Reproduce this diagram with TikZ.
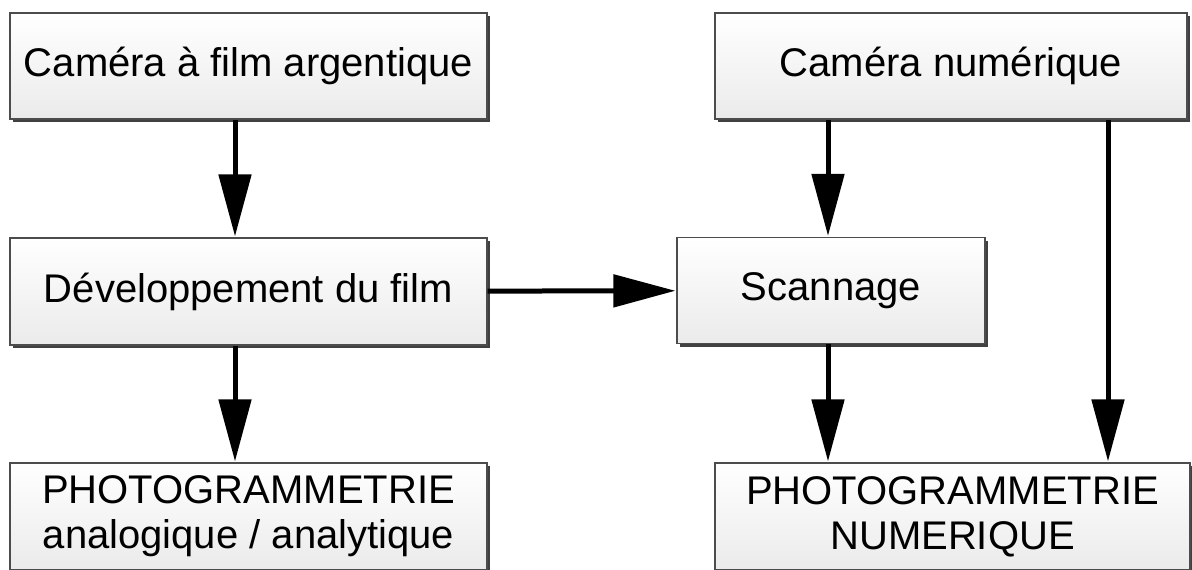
\documentclass[tikz,border=0pt]{standalone}
\usepackage{fontspec}
\setmainfont{Liberation Sans}
\usetikzlibrary{arrows.meta,shadows}

\tikzset{
    etape/.style={draw=black!70, line width=1.2pt, top color=white, bottom color=black!8,
        drop shadow={shadow xshift=3pt, shadow yshift=-3pt, fill=black!75, opacity=1},
        inner sep=0pt, align=center, font=\fontsize{40}{45}\selectfont},
    fleche/.style={line width=5pt, -{Triangle[length=62pt,width=32pt]}, shorten >=1pt}
}

\begin{document}
\begin{tikzpicture}[x=1pt, y=-1pt]
    \useasboundingbox (0, 0) rectangle (1192, 570);

    \node[etape, minimum width=477pt, minimum height=106pt] (camfilm) at (248.5, 66) {Caméra à film argentique};
    \node[etape, minimum width=477pt, minimum height=107pt] (devel) at (248.5, 291.5) {Développement du film};
    \node[etape, minimum width=477pt, minimum height=107pt] (photoana) at (248.5, 516.5) {PHOTOGRAMMETRIE\\analogique / analytique};

    \node[etape, minimum width=472pt, minimum height=106pt] (camnum) at (951, 66) {Caméra numérique};
    \node[etape, minimum width=308pt, minimum height=106pt] (scan) at (831, 290.5) {Scannage};
    \node[etape, minimum width=475pt, minimum height=107pt] (photonum) at (952.5, 516.5) {PHOTOGRAMMETRIE\\NUMERIQUE};

    \draw[fleche] (camfilm.south -| 235, 0) -- (devel.north -| 235, 0);
    \draw[fleche] (devel.south -| 235, 0) -- (photoana.north -| 235, 0);
    \draw[fleche] (devel) -- (scan);
    \draw[fleche] (camnum.south -| 828, 0) -- (scan.north -| 828, 0);
    \draw[fleche] (scan.south -| 828, 0) -- (photonum.north -| 828, 0);
    \draw[fleche] (camnum.south -| 1108, 0) -- (photonum.north -| 1108, 0);

\end{tikzpicture}
\end{document}
